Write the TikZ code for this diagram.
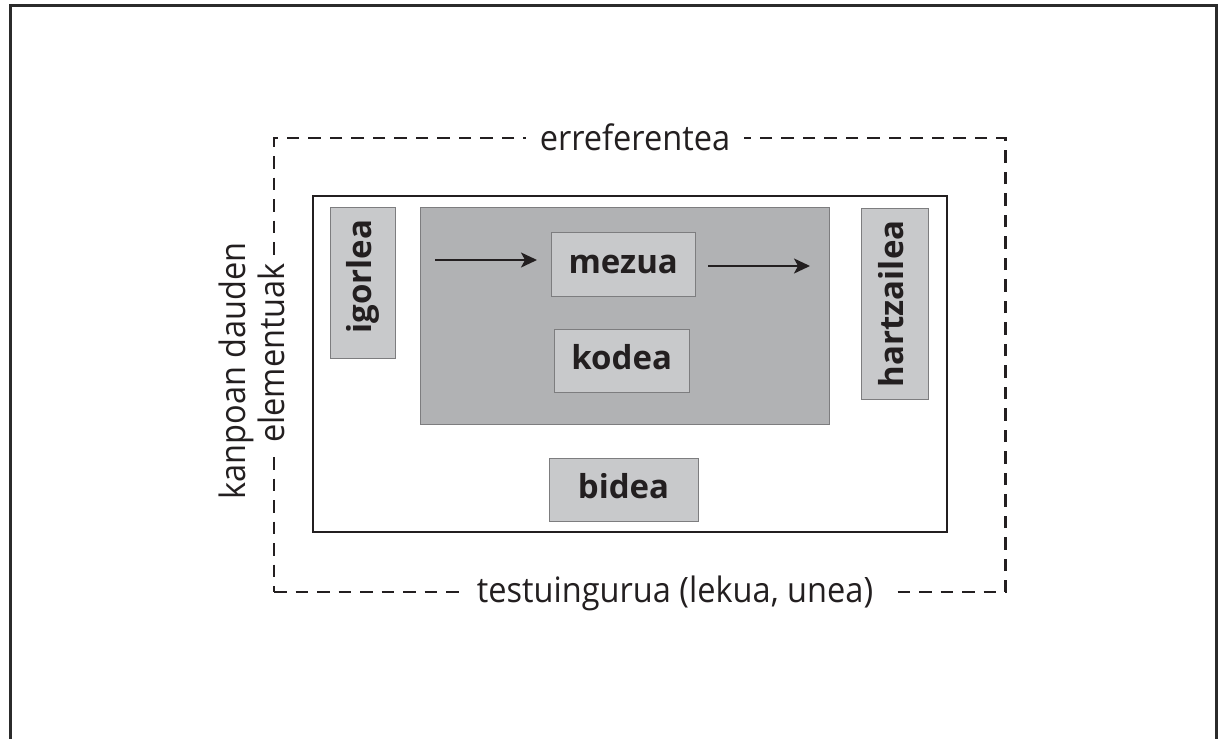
\documentclass[tikz,border=0pt]{standalone}
\usepackage{fontspec}
\setmainfont{Open Sans}
\newfontfamily\lightfont[FakeStretch=0.93]{Open Sans}
\usetikzlibrary{arrows.meta}
\definecolor{ink}{HTML}{231F20}
\definecolor{framecol}{HTML}{2B2B2B}
\definecolor{boxlight}{HTML}{C8C9CB}
\definecolor{boxdark}{HTML}{B1B2B4}
\definecolor{boxedge}{HTML}{7D7D7F}
\begin{document}
\begin{tikzpicture}[x=1pt,y=-1pt,
  lighttext/.style={font=\lightfont\fontsize{35}{40}\selectfont, text=ink},
  boldtext/.style={font=\fontsize{33}{38}\selectfont\bfseries, text=ink},
  lbox/.style={draw=boxedge, line width=1pt, fill=boxlight, boldtext,
    inner sep=0pt, text height=23pt, text depth=6pt},
  dbox/.style={draw=boxedge, line width=1pt, fill=boxdark, inner sep=0pt},
  ctxbox/.style={draw=ink, dashed, dash pattern=on 12.5pt off 9pt, line width=2.2pt, inner sep=0pt},
  sysbox/.style={draw=ink, line width=2pt, inner sep=0pt},
  onlabel/.style={lighttext, fill=white, inner ysep=4pt, inner xsep=14pt, anchor=base},
  arr/.style={draw=ink, line width=1.8pt, -{Stealth[length=16pt,width=15pt,inset=4pt]}}]
\useasboundingbox (0,0) rectangle (1219,739);
% outer frame (open at the bottom)
\coordinate (fbl) at (10.5,760);
\coordinate (ftl) at (10.5,5.3);
\coordinate (ftr) at (1216.5,5.3);
\coordinate (fbr) at (1216.5,760);
\draw[line width=2.7pt, draw=framecol] (fbl) -- (ftl) -- (ftr) -- (fbr);
% dashed context box
\node[ctxbox, minimum width=731.5pt, minimum height=454pt] (context) at (639.75,365) {};
% solid system box
\node[sysbox, minimum width=634.5pt, minimum height=336pt] (system) at (629.75,364) {};
% dark central box
\node[dbox, minimum width=408.6pt, minimum height=216.7pt] (code) at (625,315.7) {};
% boxes
\node[lbox, rotate=90, minimum width=151pt, minimum height=65.7pt] (igorlea) at (363,282.7) {\hspace{12pt}igorlea};
\node[lbox, rotate=90, minimum width=191pt, minimum height=66.6pt] (hartzailea) at (895,303.8) {hartzailea};
\node[lbox, minimum width=144.3pt, minimum height=64.4pt] (mezua) at (623.2,264.5) {mezua};
\node[lbox, minimum width=135.3pt, minimum height=63.4pt] (kodea) at (621.7,361) {kodea};
\node[lbox, minimum width=149pt, minimum height=63pt] (bidea) at (623.5,489.5) {bidea};
% arrows
\coordinate (a1s) at (435,260);
\coordinate (a1e) at (537,260);
\coordinate (a2s) at (708,266);
\coordinate (a2e) at (810,266);
\draw[arr] (a1s) -- (a1e);
\draw[arr] (a2s) -- (a2e);
% labels on the dashed box
\node[onlabel] (erref) at (635,150) {erreferentea};
\node[onlabel, inner xsep=16pt] (testu) at (675,602) {testuingurua (lekua, unea)};
\node[onlabel, rotate=90, inner xsep=8pt, inner ysep=3pt] (elem) at (284,353) {elementuak};
\node[lighttext, anchor=base, rotate=90, inner sep=0pt] (kanp) at (245,371) {kanpoan dauden};
\end{tikzpicture}
\end{document}
